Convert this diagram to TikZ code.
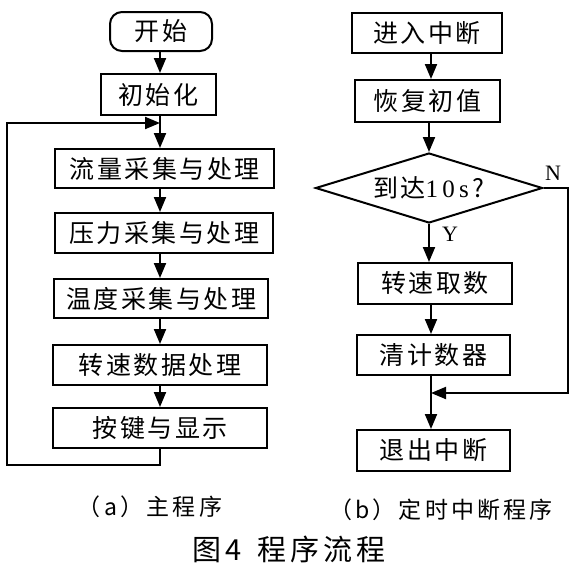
\documentclass[tikz,border=0pt]{standalone}
\usepackage{fontspec}
\setmainfont{Liberation Serif}
\newfontfamily\cjk[LetterSpace=10]{Noto Sans CJK SC}
\newfontfamily\cjkcap[LetterSpace=14]{Noto Sans CJK SC}
\usetikzlibrary{shapes.geometric,arrows.meta}
\begin{document}
\begin{tikzpicture}[x=1pt,y=-1pt,
  line/.style={line width=2pt, draw=black},
  arr/.style={line, -{Triangle[length=15pt,width=12pt]}},
  box/.style={draw, line width=2pt, inner sep=0pt, minimum height=40pt,
    font={\fontsize{25}{25}\selectfont\cjk}},
  term/.style={box, rounded corners=12pt},
  dec/.style={draw, line width=2pt, shape=diamond, aspect=3.2, inner sep=0pt,
    minimum width=227pt, minimum height=70pt,
    font={\fontsize{25}{25}\selectfont\cjk}},
  lab/.style={font={\fontsize{22}{22}\selectfont}},
  captext/.style={font={\fontsize{23}{23}\selectfont\cjkcap}},
  ttltext/.style={font={\fontsize{29}{29}\selectfont\cjkcap}}
]
\useasboundingbox (0,0) rectangle (577,574);
\fill[white] (0,0) rectangle (577,574);

% ---- (a) main program
\node[term, minimum width=102pt, minimum height=39pt] (start) at (161,31.5) {开始};
\node[box, minimum width=115pt, minimum height=41pt] (init) at (158,94.5) {初始化};
\node[box, minimum width=219pt, minimum height=39pt] (flow) at (164.5,168.5) {流量采集与处理};
\node[box, minimum width=218pt, minimum height=40pt] (pres) at (164,233) {压力采集与处理};
\node[box, minimum width=214pt, minimum height=39pt] (temp) at (161,298.5) {温度采集与处理};
\node[box, minimum width=214pt, minimum height=40pt] (speed) at (160,365) {转速数据处理};
\node[box, minimum width=214pt, minimum height=40pt] (key) at (160,428) {按键与显示};

\coordinate (jt) at (160,123);
\coordinate (lb) at (7,465);

\draw[arr] (start.south -| jt) -- (init.north -| jt);
\draw[arr] (init.south -| jt) -- (flow.north -| jt);
\draw[arr] (flow.south -| jt) -- (pres.north -| jt);
\draw[arr] (pres.south -| jt) -- (temp.north -| jt);
\draw[arr] (temp.south -| jt) -- (speed.north -| jt);
\draw[arr] (speed.south -| jt) -- (key.north -| jt);
\draw[arr] (key.south -| jt) |- (lb) |- (jt);

\node[captext] (capa) at (150,507) {（a）主程序};

% ---- (b) timer interrupt
\node[box, minimum width=150pt, minimum height=40pt] (enter) at (427,33) {进入中断};
\node[box, minimum width=145pt, minimum height=42pt] (rest) at (427.5,101) {恢复初值};
\node[dec] (reach) at (429,188) {到达{\rmfamily\fontsize{25}{25}\selectfont 1\,0\,s}\,?};
\node[box, minimum width=154pt, minimum height=41pt] (take) at (435,283.5) {转速取数};
\node[box, minimum width=153pt, minimum height=40pt] (clr) at (433.5,355) {清计数器};
\node[box, minimum width=153pt, minimum height=41pt] (quit) at (433.5,450.5) {退出中断};

\coordinate (rc) at (431,0);
\coordinate (nr) at (568,188);
\coordinate (nj) at (431,393);

\draw[arr] (enter.south -| rc) -- (rest.north -| rc);
\draw[arr] (rest.south -| reach) -- (reach.north);
\draw[arr] (reach.south) -- (take.north -| reach);
\draw[arr] (take.south -| rc) -- (clr.north -| rc);
\draw[arr] (clr.south -| rc) -- (quit.north -| rc);
\draw[arr] (reach.east) -- (nr) |- (nj);

\node[lab] (nlab) at (553,173) {N};
\node[lab] (ylab) at (450,234) {Y};

\node[captext] (capb) at (441,510) {（b）定时中断程序};

% ---- title
\node[ttltext] (title) at (289,549) {图\hspace{4pt}4\hspace{16pt}程序流程};
\end{tikzpicture}
\end{document}
